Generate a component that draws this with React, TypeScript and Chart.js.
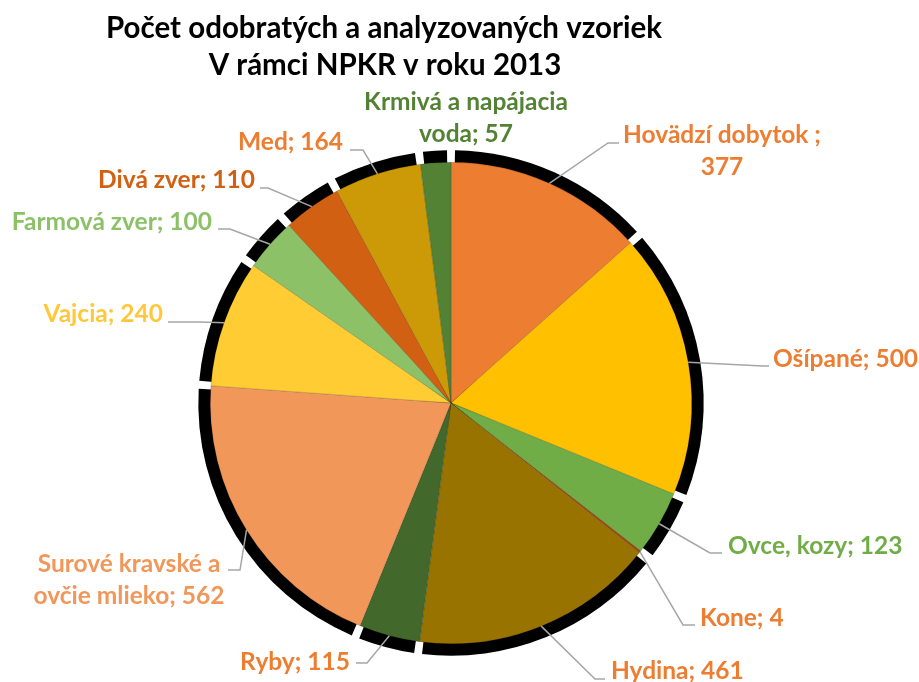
import React, { useEffect, useRef } from "react";
import { Chart, registerables } from "chart.js";

Chart.register(...registerables);

const titleLines = ["Počet odobratých a analyzovaných vzoriek", "V rámci NPKR v roku 2013"];

const categories = [
  "Hovädzí dobytok ",
  "Ošípané",
  "Ovce, kozy",
  "Kone",
  "Hydina",
  "Ryby",
  "Surové kravské a ovčie mlieko",
  "Vajcia",
  "Farmová zver",
  "Divá zver",
  "Med",
  "Krmivá a napájacia voda",
];

const values = [377, 500, 123, 4, 461, 115, 562, 240, 100, 110, 164, 57];

const sliceColors = [
  "#ED7D31",
  "#FFC000",
  "#70AD47",
  "#9E480E",
  "#997300",
  "#43682B",
  "#F1975A",
  "#FFCD33",
  "#8CC168",
  "#D26012",
  "#CC9A06",
  "#548235",
];

const labelColors = [
  "#ED7D31",
  "#ED7D31",
  "#70AD47",
  "#ED7D31",
  "#ED7D31",
  "#ED7D31",
  "#F1975A",
  "#FFC83A",
  "#8CC168",
  "#D26012",
  "#ED7D31",
  "#548235",
];

// words on the first line of a wrapped label (0 = single line)
const labelWrap = [3, 0, 0, 0, 0, 0, 3, 0, 0, 0, 0, 3];

type LabelLayout = {
  x: number;
  y: number;
  align: CanvasTextAlign;
  elbow: [number, number] | null;
  end: [number, number] | null;
};

const labelLayout: LabelLayout[] = [
  { x: 722, y: 143, align: "center", elbow: [608, 143], end: [619, 143] },
  { x: 773, y: 367, align: "left", elbow: [763, 366], end: [769, 366] },
  { x: 728, y: 554, align: "left", elbow: [710, 553], end: [722, 553] },
  { x: 700, y: 626, align: "left", elbow: [683, 625], end: [695, 625] },
  { x: 611, y: 679, align: "left", elbow: [595, 679], end: [605, 679] },
  { x: 350, y: 670, align: "right", elbow: [367, 663], end: [356, 663] },
  { x: 129, y: 572, align: "center", elbow: [240, 570], end: [228, 570] },
  { x: 163, y: 322, align: "right", elbow: [200, 322], end: [168, 322] },
  { x: 212, y: 230, align: "right", elbow: [230, 229], end: [218, 229] },
  { x: 255, y: 188, align: "right", elbow: [268, 188], end: [260, 188] },
  { x: 343, y: 150, align: "right", elbow: [363, 150], end: [350, 150] },
  { x: 466, y: 110, align: "center", elbow: null, end: null },
];

const FONT = "Lato, 'Open Sans', sans-serif";

function labelText(i: number): string[] {
  const full = `${categories[i]}; ${values[i]}`.replace(/\s+/g, " ");
  const words = full.split(" ");
  const n = labelWrap[i];
  if (!n) return [full];
  return [words.slice(0, n).join(" "), words.slice(n).join(" ")];
}

const shadowPlugin = {
  id: "sliceShadow",
  beforeDatasetsDraw(chart: any) {
    const ctx = chart.ctx;
    const meta = chart.getDatasetMeta(0);
    ctx.save();
    ctx.fillStyle = "#000000";
    meta.data.forEach((el: any) => {
      const R = el.outerRadius + 12;
      const gap = 4 / R;
      const s = el.startAngle + gap;
      const e = el.endAngle - gap;
      if (e <= s) return;
      ctx.beginPath();
      ctx.moveTo(el.x, el.y);
      ctx.arc(el.x, el.y, R, s, e);
      ctx.closePath();
      ctx.fill();
    });
    ctx.restore();
  },
};

const labelsPlugin = {
  id: "outLabels",
  afterDatasetsDraw(chart: any) {
    const ctx = chart.ctx;
    const meta = chart.getDatasetMeta(0);
    ctx.save();
    // leader lines
    ctx.strokeStyle = "#A6A6A6";
    ctx.lineWidth = 1.5;
    meta.data.forEach((el: any, i: number) => {
      const L = labelLayout[i];
      if (!L.elbow || !L.end) return;
      const mid = (el.startAngle + el.endAngle) / 2;
      const ax = el.x + Math.cos(mid) * el.outerRadius;
      const ay = el.y + Math.sin(mid) * el.outerRadius;
      ctx.beginPath();
      ctx.moveTo(ax, ay);
      ctx.lineTo(L.elbow[0], L.elbow[1]);
      ctx.lineTo(L.end[0], L.end[1]);
      ctx.stroke();
    });
    // texts
    ctx.font = `bold 24.5px ${FONT}`;
    ctx.textBaseline = "alphabetic";
    meta.data.forEach((_el: any, i: number) => {
      const L = labelLayout[i];
      ctx.fillStyle = labelColors[i];
      ctx.textAlign = L.align;
      labelText(i).forEach((line, k) => {
        ctx.fillText(line, L.x, L.y + k * 32);
      });
    });
    // title
    ctx.fillStyle = "#000000";
    ctx.font = `bold 29.5px ${FONT}`;
    ctx.textAlign = "center";
    ctx.fillText(titleLines[0], 384, 38);
    ctx.fillText(titleLines[1], 385, 75);
    ctx.restore();
  },
};

export default function App() {
  const ref = useRef<HTMLCanvasElement | null>(null);

  useEffect(() => {
    if (!ref.current) return;
    const chart = new Chart(ref.current, {
      type: "pie",
      data: {
        labels: categories,
        datasets: [
          {
            data: values,
            backgroundColor: sliceColors,
            borderColor: "rgba(0,0,0,0.25)",
            borderWidth: 0.6,
          },
        ],
      },
      options: {
        responsive: false,
        animation: false,
        layout: { padding: { left: 210, right: 227, top: 162, bottom: 38 } },
        plugins: {
          legend: { display: false },
          tooltip: { enabled: false },
          title: { display: false },
        },
      },
      plugins: [shadowPlugin, labelsPlugin],
    });
    return () => chart.destroy();
  }, []);

  return (
    <div style={{ position: "absolute", left: 0, top: 0, width: 919, height: 682, background: "#fff" }}>
      <canvas ref={ref} width={919} height={682} style={{ display: "block" }} />
    </div>
  );
}
